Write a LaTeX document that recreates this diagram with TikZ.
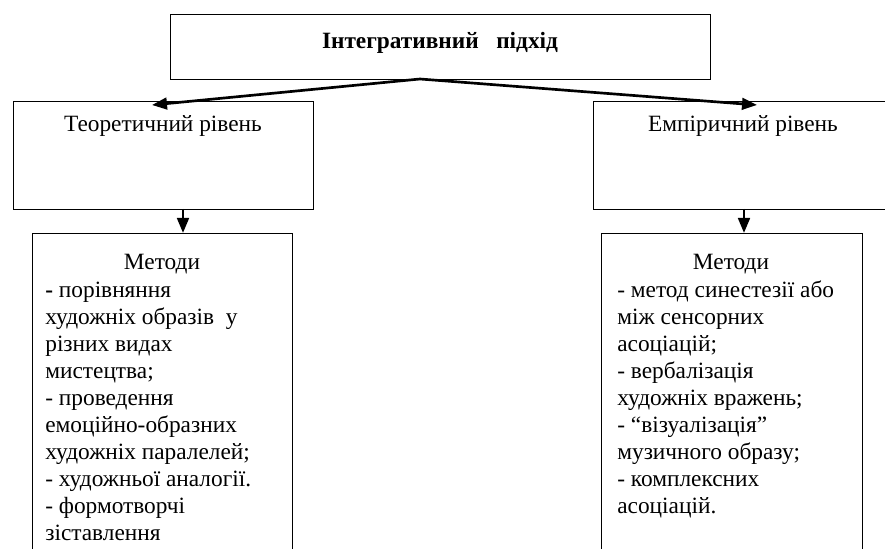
\documentclass[tikz,border=0pt]{standalone}
\usepackage{fontspec}
\setmainfont{Liberation Serif}
\usepackage{tikz}
\usetikzlibrary{arrows.meta}
\def\txt{\fontsize{14pt}{16.2pt}\selectfont}

\begin{document}
\begin{tikzpicture}[x=0.6pt,y=-0.6pt]
    \tikzstyle{every node}=[font=\txt, inner sep=0pt]
    \tikzstyle{box}=[draw, line width=0.8pt, rectangle, anchor=north west]
    \tikzstyle{arr}=[line width=1.6pt, -{Triangle[length=9pt,width=7pt]}]
    \useasboundingbox (0,0) rectangle (885,549);
    \clip (0,0) rectangle (885,549);
    % top
    \node[box, minimum width=540*0.6pt, minimum height=65*0.6pt] (approach) at (170,14) {};
    \node[anchor=base, font=\bfseries\txt] (title) at (440,49) {Інтегративний\ \ \ підхід};
    % levels
    \node[box, minimum width=300*0.6pt, minimum height=108*0.6pt] (theory) at (13,101) {};
    \node[box, minimum width=300*0.6pt, minimum height=108*0.6pt] (empiric) at (593,101) {};
    \node[anchor=base] (theorylbl) at (163,132) {Теоретичний рівень};
    \node[anchor=base] (empiriclbl) at (743,132) {Емпіричний рівень};
    % methods (lists hang from their last line)
    \node[box, minimum width=260*0.6pt, minimum height=400*0.6pt] (lmeth) at (32,233) {};
    \node[box, minimum width=261*0.6pt, minimum height=400*0.6pt] (rmeth) at (601,233) {};
    \node[anchor=base] (lhead) at (162,270) {Методи};
    \node[anchor=base] (rhead) at (731,270) {Методи};
    \node[anchor=base west, align=left] (llist) at (45,540) {\textbf{-} порівняння\\
      художніх образів\ \ у\\
      різних видах\\
      мистецтва;\\
      - проведення\\
      емоційно-образних\\
      художніх паралелей;\\
      - художньої аналогії.\\
      - формотворчі\\
      зіставлення};
    \node[anchor=base west, align=left] (rlist) at (617,513) {- метод синестезії або\\
      між сенсорних\\
      асоціацій;\\
      - вербалізація\\
      художніх вражень;\\
      - “візуалізація”\\
      музичного образу;\\
      - комплексних\\
      асоціацій.};
    % arrows
    \coordinate (apex) at (420,79);
    \coordinate (ltip) at (152,105);
    \coordinate (rtip) at (757,105);
    \draw[arr] (apex) -- (ltip);
    \draw[arr] (apex) -- (rtip);
    \coordinate (ldown) at (183,209);
    \coordinate (rdown) at (744,209);
    \draw[arr] (ldown) -- (ldown |- lmeth.north);
    \draw[arr] (rdown) -- (rdown |- rmeth.north);
\end{tikzpicture}
\end{document}
